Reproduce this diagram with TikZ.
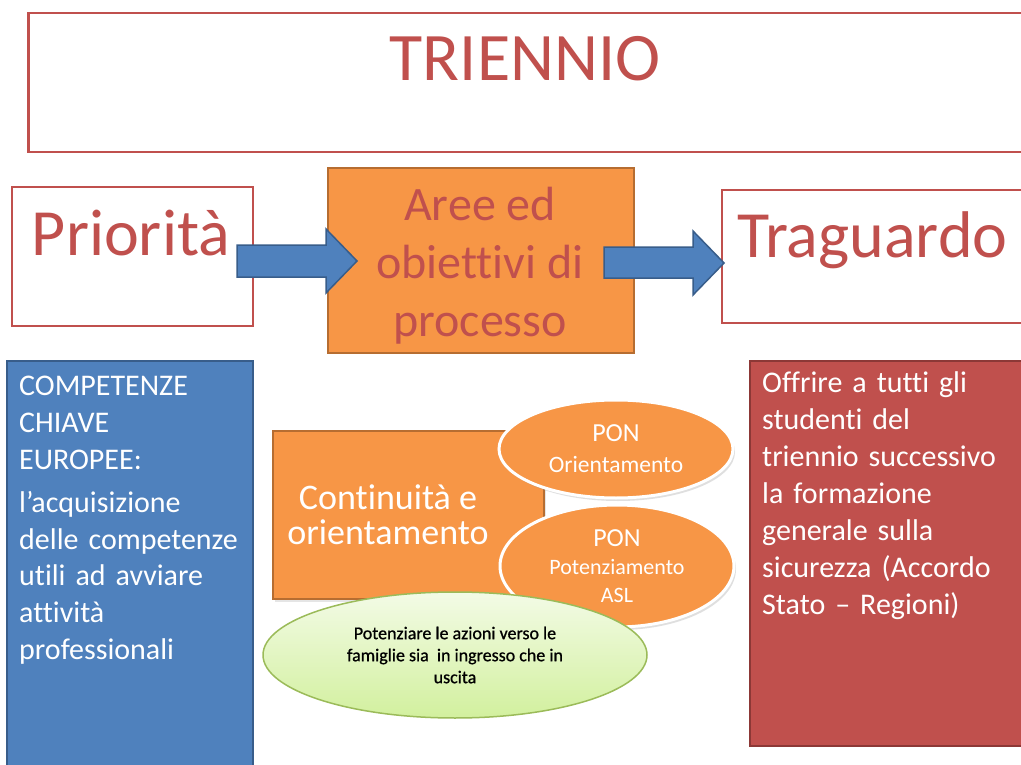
\documentclass[tikz,border=0pt]{standalone}
\usepackage{fontspec}
\setmainfont{Carlito}[Ligatures=NoCommon, Contextuals=NoAlternate]
\newfontfamily\greenfont{Carlito}[Ligatures=NoCommon, Contextuals=NoAlternate, FakeBold=0.8]
\usetikzlibrary{shapes.geometric,shadows}
\definecolor{cred}{HTML}{C0504D}
\definecolor{creddk}{HTML}{8C3836}
\definecolor{cblue}{HTML}{4F81BD}
\definecolor{cbluedk}{HTML}{385D8A}
\definecolor{corange}{HTML}{F79646}
\definecolor{corangedk}{HTML}{B66D31}
\definecolor{cgreenln}{HTML}{9BBB59}
\definecolor{cgreentop}{HTML}{F3FBE6}
\definecolor{cgreenbot}{HTML}{D2F09E}
\tikzset{
  outlinebox/.style={draw=cred, line width=2.5pt, fill=white, inner sep=0pt, anchor=north west},
  bluebox/.style={draw=cbluedk, line width=2pt, fill=cblue, inner sep=0pt, anchor=north west},
  redbox/.style={draw=creddk, line width=2pt, fill=cred, inner sep=0pt, anchor=north west},
  orangebox/.style={draw=corangedk, line width=2pt, fill=corange, inner sep=0pt, anchor=north west},
  blockarrow/.style={draw=cbluedk, line width=1.5pt, fill=cblue, line join=miter},
  ponell/.style={ellipse, draw=white, line width=3pt, fill=corange, inner sep=0pt, align=center, text=white,
    drop shadow={shadow xshift=2pt, shadow yshift=-3pt, opacity=0.25}},
  greenell/.style={ellipse, draw=cgreenln, line width=1.5pt, top color=cgreentop, bottom color=cgreenbot, inner sep=0pt, align=center},
  bigred/.style={text=cred, font=\fontsize{66}{70}\selectfont, inner sep=0pt},
  bodytext/.style={text=white, font=\fontsize{30}{37}\selectfont, inner sep=0pt, align=left, anchor=base west}
}
\begin{document}
\begin{tikzpicture}[x=1pt,y=-1pt]
\useasboundingbox (0,0) rectangle (1021,765);
\clip (0,0) rectangle (1021,765);
\fill[white] (0,0) rectangle (1021,765);

% title
\node[outlinebox, minimum width=1013pt, minimum height=139pt] (tri) at (27,12) {};
\node[bigred, anchor=base, font=\fontsize{68}{70}\selectfont] (trit) at (525,81) {TRIENNIO};

% Priorita
\node[outlinebox, line width=2pt, minimum width=241pt, minimum height=139pt] (prio) at (11,186) {};
\node[bigred, anchor=base] (priot) at (131,255) {Priorità};

% Traguardo
\node[outlinebox, line width=2pt, minimum width=319pt, minimum height=133pt] (trag) at (721,189) {};
\node[bigred, anchor=base west] (tragt) at (737,258) {Traguardo};

% Aree
\node[orangebox, minimum width=306pt, minimum height=185pt] (aree) at (327,167) {};
\node[text=cred, font=\fontsize{48}{58}\selectfont, align=center, inner sep=0pt] (areet) at (480,266) {Aree ed\\obiettivi di\\processo};

% block arrows
\draw[blockarrow] (237,245) -- (326,245) -- (326,229) -- (357,261) -- (326,293) -- (326,277) -- (237,277) -- cycle;
\draw[blockarrow] (604,247) -- (693,247) -- (693,231) -- (724,263) -- (693,295) -- (693,278) -- (604,278) -- cycle;

% blue box
\node[bluebox, minimum width=246pt, minimum height=420pt] (blue) at (6,360) {};
\node[bodytext, text width=235pt] (bluet) at (19,395) {COMPETENZE\\CHIAVE\\EUROPEE:\\[6pt]l’acquisizione\\delle competenze\\utili ad avviare\\attività\\professionali};

% red box
\node[redbox, minimum width=291pt, minimum height=385pt] (redb) at (749,360) {};
\node[bodytext, text width=260pt] (redt) at (762,392) {Offrire a tutti gli\\studenti del\\triennio successivo\\la formazione\\generale sulla\\sicurezza (Accordo\\Stato – Regioni)};

% Continuita
\node[orangebox, minimum width=271pt, minimum height=168pt, drop shadow={shadow xshift=2pt, shadow yshift=-3pt, opacity=0.2}] (cont) at (272,430) {};
\node[text=white, font=\fontsize{36}{35}\selectfont, align=center, inner sep=0pt] (contt) at (388,515) {Continuità e\\orientamento};

% PON ellipses
\node[ponell, minimum width=234pt, minimum height=98pt, font=\fontsize{23.5}{31}\selectfont] (pon1) at (616,449) {{\fontsize{26}{31}\selectfont PON}\\Orientamento};
\node[ponell, minimum width=234pt, minimum height=122pt, font=\fontsize{22}{28}\selectfont] (pon2) at (617,566) {{\fontsize{26}{30}\selectfont PON}\\Potenziamento\\ASL};

% green ellipse
\node[greenell, minimum width=384pt, minimum height=126pt, font=\greenfont\fontsize{18}{22}\selectfont] (green) at (455,655) {Potenziare le azioni verso le\\famiglie sia\ \ in ingresso che in\\uscita};
\end{tikzpicture}
\end{document}
